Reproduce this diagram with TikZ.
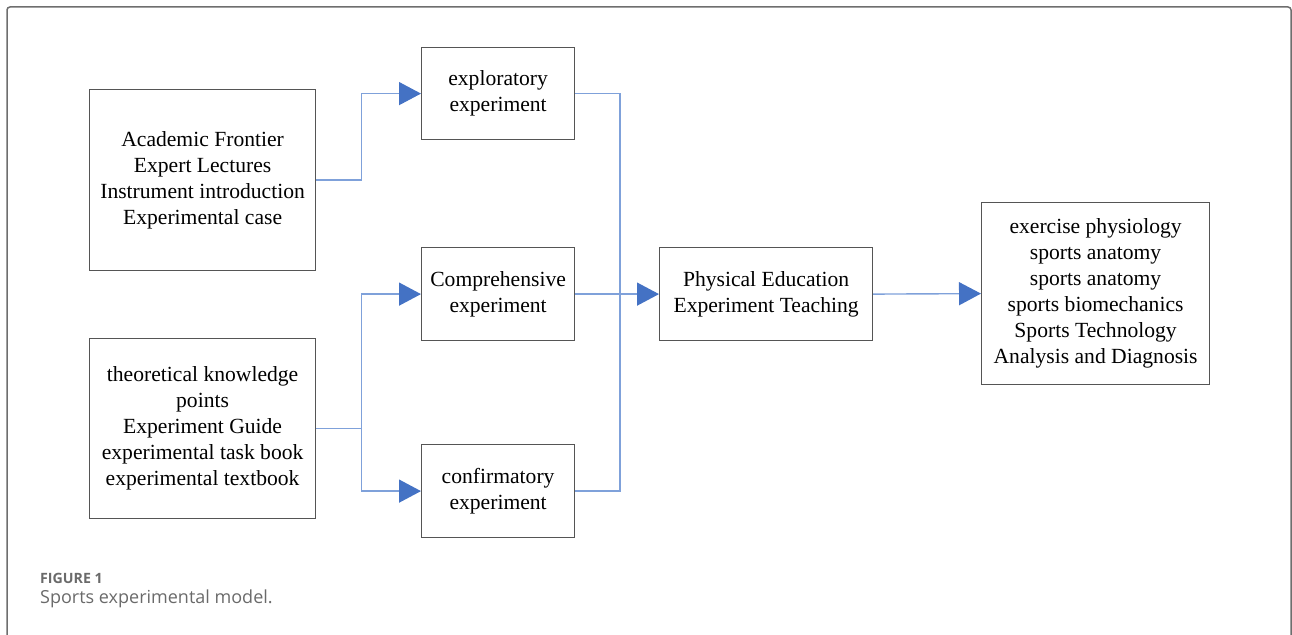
\documentclass[tikz,border=0pt]{standalone}
\usepackage{fontspec}
\setmainfont{Liberation Serif}
\newfontfamily\capfont{Open Sans}
\usetikzlibrary{arrows.meta}
\definecolor{linkblue}{HTML}{7FA1DA}
\definecolor{tipblue}{HTML}{4472C4}
\definecolor{boxgray}{HTML}{555555}
\definecolor{framegray}{HTML}{6E6E6E}
\definecolor{capgray}{HTML}{6A6A6A}
\tikzset{
  box/.style={draw=boxgray, line width=1.2pt, align=center, inner sep=0pt,
    anchor=north west, font=\fontsize{21.6}{26}\selectfont},
  conn/.style={draw=linkblue, line width=1.4pt},
  tip/.style={-{Triangle[length=22pt,width=23pt,color=tipblue,fill=tipblue]}}
}
\begin{document}
\begin{tikzpicture}[x=1pt,y=-1pt]
\useasboundingbox (0,0) rectangle (1292,634);
\begin{scope}
  \clip (0,0) rectangle (1292,634);
  \draw[framegray, line width=1.5pt, rounded corners=3pt]
    (7,660) -- (7,7) -- (1291,7) -- (1291,660);
\end{scope}

% source boxes
\node[box, minimum width=226pt, minimum height=181pt] (acad) at (89,89)
  {Academic Frontier\\Expert Lectures\\Instrument introduction\\Experimental case};
\node[box, minimum width=226pt, minimum height=180pt] (theo) at (89,338)
  {theoretical knowledge\\points\\Experiment Guide\\experimental task book\\experimental textbook};

% experiment types
\node[box, minimum width=153pt, minimum height=92pt] (expl) at (421,47)
  {exploratory\\experiment};
\node[box, minimum width=153pt, minimum height=93pt] (comp) at (421,247)
  {Comprehensive\\experiment};
\node[box, minimum width=153pt, minimum height=93pt] (conf) at (421,444)
  {confirmatory\\experiment};

% teaching and subjects
\node[box, minimum width=213pt, minimum height=93pt] (pe) at (659,247)
  {Physical Education\\Experiment Teaching};
\node[box, minimum width=228pt, minimum height=182pt] (subj) at (981,202)
  {exercise physiology\\sports anatomy\\sports anatomy\\sports biomechanics\\Sports Technology\\Analysis and Diagnosis};

% connectors
\coordinate (merge) at (620,293);
\draw[conn, tip] (acad.east) -- ++(45,0) |- (expl.west);
\draw[conn, tip] (theo.east) -- ++(45,0) |- (comp.west);
\draw[conn, tip] (theo.east) -- ++(45,0) |- (conf.west);
\draw[conn] (expl.east) -| (merge) |- (conf.east);
\draw[conn, tip] (comp.east) -- (pe.west);
\draw[conn, tip] (pe.east) -- (subj.west);

% caption
\node[anchor=base west, inner sep=0pt, text=capgray, font=\capfont\bfseries\fontsize{14.2}{16}\selectfont] (fig) at (40,583) {FIGURE 1};
\node[anchor=base west, inner sep=0pt, text=capgray, font=\capfont\fontsize{18}{20}\selectfont] (cap) at (40,603) {Sports experimental model.};
\end{tikzpicture}
\end{document}
